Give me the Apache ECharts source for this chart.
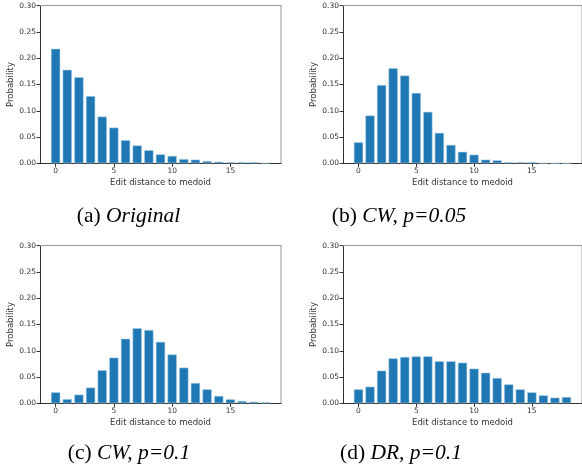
<!DOCTYPE html>
<html><head><meta charset="utf-8">
<script src="https://cdn.jsdelivr.net/npm/echarts@6/dist/echarts.min.js"></script>
<style>html,body{margin:0;padding:0;background:#fff}#c{width:582px;height:475px}</style>
</head><body><div id="c"></div>
<script>
// distances 0..18
const distances = [0,1,2,3,4,5,6,7,8,9,10,11,12,13,14,15,16,17,18];
const original = [0.218,0.178,0.164,0.128,0.089,0.068,0.044,0.034,0.025,0.017,0.014,0.008,0.007,0.0044,0.003,0.002,0.002,0.002,0.0008];
const cw005 = [0.040,0.091,0.149,0.181,0.167,0.134,0.098,0.058,0.035,0.022,0.0165,0.007,0.0057,0.002,0.002,0.002,0.0005,0.0003,0.0002];
const cw01 = [0.021,0.008,0.0165,0.030,0.063,0.087,0.123,0.143,0.1395,0.117,0.093,0.068,0.0387,0.0266,0.014,0.0076,0.0044,0.003,0.002];
const dr01 = [0.0266,0.0317,0.0622,0.0856,0.0882,0.0894,0.0894,0.080,0.080,0.0774,0.066,0.0583,0.0482,0.0361,0.0266,0.0209,0.0152,0.0108,0.012];
const xTicks = [0,5,10,15];
const captions = ['(a) ', 'Original', '(b) ', 'CW, p=0.05', '(c) ', 'CW, p=0.1', '(d) ', 'DR, p=0.1'];
const xTitle = 'Edit distance to medoid';
const yTitle = 'Probability';

const panels = [
  {data: original, left: 40, top: 5.7},
  {data: cw005, left: 343, top: 5.7},
  {data: cw01, left: 40, top: 245.7},
  {data: dr01, left: 343, top: 245.7}
];
const W = 241, H = 157.6;
const grid = [], xAxis = [], yAxis = [], series = [];
const tickFont = {fontFamily: 'DejaVu Sans', fontSize: 7.5, color: '#333'};
const titleFont = {fontFamily: 'DejaVu Sans', fontSize: 8.5, color: '#333'};
panels.forEach((p, i) => {
  grid.push({left: p.left, top: p.top, width: W, height: H});
  xAxis.push({
    type: 'value', gridIndex: i, min: -1.34, max: 19.34, position: 'bottom',
    name: xTitle, nameLocation: 'middle', nameGap: 15, nameTextStyle: titleFont,
    splitLine: {show: false},
    axisLine: {show: true, onZero: false, lineStyle: {color: '#333', width: 1}},
    axisTick: {show: true, length: 3.5, customValues: xTicks, lineStyle: {color: '#333'}},
    axisLabel: Object.assign({customValues: xTicks, margin: 4}, tickFont)
  });
  yAxis.push({
    type: 'value', gridIndex: i, min: 0, max: 0.3, interval: 0.05, position: 'left',
    name: yTitle, nameLocation: 'middle', nameGap: 25, nameRotate: 90, nameTextStyle: titleFont,
    splitLine: {show: false},
    axisLine: {show: true, onZero: false, lineStyle: {color: '#333', width: 1}},
    axisTick: {show: true, length: 3.5, lineStyle: {color: '#333'}},
    axisLabel: Object.assign({formatter: v => v.toFixed(2), margin: 4}, tickFont)
  });
  series.push({
    type: 'bar', xAxisIndex: i, yAxisIndex: i, barWidth: 9.3,
    data: distances.map((d, k) => [d, p.data[k]]),
    itemStyle: {color: '#1f77b4', borderColor: 'rgba(170,205,230,0.9)', borderWidth: 0.6},
    silent: true
  });
});
// top and right spines
panels.forEach((p, i) => {
  xAxis.push({
    type: 'value', gridIndex: i, min: -1.34, max: 19.34, position: 'top',
    splitLine: {show: false}, axisTick: {show: false}, axisLabel: {show: false},
    axisLine: {show: true, onZero: false, lineStyle: {color: '#999', width: 1}}
  });
  yAxis.push({
    type: 'value', gridIndex: i, min: 0, max: 0.3, position: 'right',
    splitLine: {show: false}, axisTick: {show: false}, axisLabel: {show: false},
    axisLine: {show: true, onZero: false, lineStyle: {color: '#bbb', width: 1.5}}
  });
});

const capPos = [[128.5, 216.7], [399, 216.7], [129, 453], [401, 453]];
const graphic = [{type: 'rect', left: 0, top: 425, shape: {width: 582, height: 50}, style: {fill: '#fff'}, z: 100}];
capPos.forEach((c, i) => {
  graphic.push({
    type: 'text', x: c[0], y: c[1], z: 101,
    style: {
      text: '{r|' + captions[2*i] + '}{it|' + captions[2*i+1] + '}',
      align: 'center', verticalAlign: 'middle',
      rich: {
        r: {fontFamily: 'Liberation Serif', fontSize: 21.5, fill: '#000'},
        it: {fontFamily: 'Liberation Serif', fontSize: 21.5, fontStyle: 'italic', fill: '#000'}
      }
    }
  });
});

const chart = echarts.init(document.getElementById('c'), null, {renderer: 'canvas'});
chart.setOption({animation: false, grid, xAxis, yAxis, series, graphic});
</script></body></html>
